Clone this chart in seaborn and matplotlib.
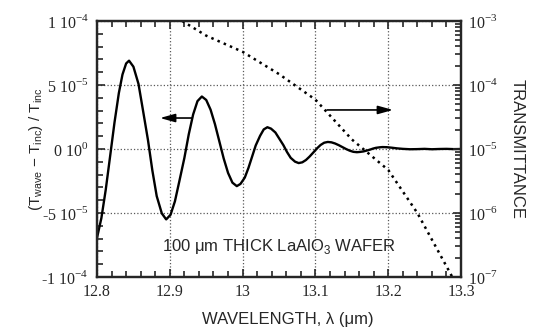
import numpy as np
import pandas as pd
import matplotlib
matplotlib.use("Agg")
import matplotlib.pyplot as plt
import seaborn as sns

# ---- data ----
wavelength = [12.800, 12.806, 12.812, 12.818, 12.824, 12.830, 12.835, 12.840, 12.844,
              12.850, 12.857, 12.863, 12.870, 12.876, 12.882, 12.889, 12.895,
              12.901, 12.907, 12.913, 12.920, 12.926, 12.932, 12.938, 12.944,
              12.950, 12.956, 12.962, 12.968, 12.974, 12.980, 12.986, 12.992,
              12.997, 13.003, 13.008, 13.013, 13.018, 13.024, 13.029, 13.034,
              13.039, 13.045, 13.050, 13.056, 13.061, 13.066, 13.072, 13.077,
              13.082, 13.087, 13.092, 13.097, 13.102, 13.107, 13.112, 13.117,
              13.122, 13.127, 13.132, 13.137, 13.142, 13.147, 13.152, 13.157,
              13.161, 13.166, 13.170, 13.175, 13.179, 13.183, 13.188, 13.192,
              13.198, 13.205, 13.212, 13.220, 13.230, 13.240, 13.250, 13.260,
              13.270, 13.280, 13.290, 13.300]
ratio_e5 = [-6.94, -5.40, -3.18, -0.57, 2.06, 4.37, 5.82, 6.68, 6.90,
            6.43, 5.08, 3.07, 0.70, -1.67, -3.68, -5.03, -5.50,
            -5.14, -4.09, -2.54, -0.70, 1.14, 2.69, 3.74, 4.10,
            3.83, 3.07, 1.94, 0.60, -0.74, -1.87, -2.63, -2.90,
            -2.73, -2.23, -1.48, -0.60, 0.28, 1.03, 1.53, 1.70,
            1.59, 1.29, 0.84, 0.30, -0.24, -0.69, -0.99, -1.10,
            -1.04, -0.86, -0.59, -0.28, 0.04, 0.31, 0.49, 0.55,
            0.52, 0.43, 0.30, 0.15, 0.00, -0.13, -0.22, -0.25,
            -0.23, -0.19, -0.13, -0.05, 0.03, 0.09, 0.13, 0.15,
            0.14, 0.10, 0.05, 0.01, -0.02, -0.01, 0.01, -0.02,
            0.00, 0.01, -0.01, 0.00]

trans_wavelength = [12.917, 12.950, 13.000, 13.050, 13.100, 13.150, 13.200, 13.240, 13.288]
transmittance = [1.0e-3, 5.9e-4, 3.3e-4, 1.48e-4, 5.9e-5, 1.41e-5, 4.7e-6, 1.0e-6, 1.0e-7]

x_ticks = [12.8, 12.9, 13.0, 13.1, 13.2, 13.3]
x_ticklabels = ["12.8", "12.9", "13", "13.1", "13.2", "13.3"]
left_ticks = [-1e-4, -5e-5, 0.0, 5e-5, 1e-4]
left_ticklabels = [r"-1 10$^{\mathregular{-4}}$", r"-5 10$^{\mathregular{-5}}$",
                   r"0 10$^{\mathregular{0}}$", r"5 10$^{\mathregular{-5}}$",
                   r"1 10$^{\mathregular{-4}}$"]
right_ticks = [1e-7, 1e-6, 1e-5, 1e-4, 1e-3]
right_ticklabels = [r"10$^{\mathregular{-7}}$", r"10$^{\mathregular{-6}}$",
                    r"10$^{\mathregular{-5}}$", r"10$^{\mathregular{-4}}$",
                    r"10$^{\mathregular{-3}}$"]

df_ratio = pd.DataFrame({"wl": wavelength, "ratio": np.array(ratio_e5) * 1e-5})
df_trans = pd.DataFrame({"wl": trans_wavelength, "T": transmittance})

sns.set_style("ticks")
plt.rcParams["font.family"] = ["Liberation Sans", "DejaVu Sans"]
plt.rcParams["mathtext.fontset"] = "custom"
plt.rcParams["mathtext.rm"] = "Liberation Sans"
plt.rcParams["axes.linewidth"] = 1.5

fig = plt.figure(figsize=(5.33, 3.30), dpi=100)
ax = fig.add_axes([0.182, 0.1606, 0.683, 0.7758])
ax2 = ax.twinx()

sns.lineplot(data=df_ratio, x="wl", y="ratio", ax=ax, color="black", lw=1.7)
sns.lineplot(data=df_trans, x="wl", y="T", ax=ax2, color="black", lw=1.8,
             linestyle=(0, (1.0, 1.7)))

ax.set_xlim(12.8, 13.3)
ax.set_ylim(-1e-4, 1e-4)
ax2.set_yscale("log")
ax2.set_ylim(1e-7, 1e-3)

serif = ["Liberation Serif", "DejaVu Serif"]
ax.set_xticks(x_ticks)
ax.set_xticklabels(x_ticklabels, family=serif, fontsize=11.5)
ax.set_xticks(np.arange(12.8, 13.3001, 0.02), minor=True)
ax.set_yticks(left_ticks)
ax.set_yticklabels(left_ticklabels, family=serif, fontsize=11.5)
ax.set_yticks(np.arange(-1e-4, 1.0001e-4, 1e-5), minor=True)
ax2.set_yticks(right_ticks)
ax2.set_yticklabels(right_ticklabels, family=serif, fontsize=11.5)

ax.tick_params(which="both", direction="in", top=True, right=False, width=1.2)
ax.tick_params(which="major", length=6, pad=6)
ax.tick_params(which="minor", length=4)
ax.tick_params(axis="x", pad=5)
ax2.tick_params(which="both", direction="in", width=1.2)
ax2.tick_params(which="major", length=6, pad=5)
ax2.tick_params(which="minor", length=4)

ax.grid(True, which="major", linestyle=":", color="0.35", lw=0.9)
for a in (ax, ax2):
    for s in a.spines.values():
        s.set_linewidth(1.6)

ax.set_xlabel(r"WAVELENGTH, λ (μm)", fontsize=12)
ax.xaxis.set_label_coords(0.523, -0.135)
ax.set_ylabel(r"(T$_{\mathregular{wave}}$ − T$_{\mathregular{inc}}$) / T$_{\mathregular{inc}}$",
              fontsize=11)
ax.yaxis.set_label_coords(-0.143, 0.5)
ax2.set_ylabel("TRANSMITTANCE", fontsize=12, rotation=-90, labelpad=19)

ax.text(13.05, -7.6e-5, r"100 μm THICK LaAlO$_{\mathregular{3}}$ WAFER", fontsize=12,
        ha="center", va="center")

ax.annotate("", xy=(12.8865, 2.42e-5), xytext=(12.9305, 2.42e-5),
            arrowprops=dict(arrowstyle="-|>,head_length=0.9,head_width=0.25",
                            color="black", lw=1.2, shrinkA=0, shrinkB=0))
ax.annotate("", xy=(13.2066, 3.05e-5), xytext=(13.116, 3.05e-5),
            arrowprops=dict(arrowstyle="-|>,head_length=0.9,head_width=0.25",
                            color="black", lw=1.2, shrinkA=0, shrinkB=0))

fig.savefig("out.png", dpi=100)
